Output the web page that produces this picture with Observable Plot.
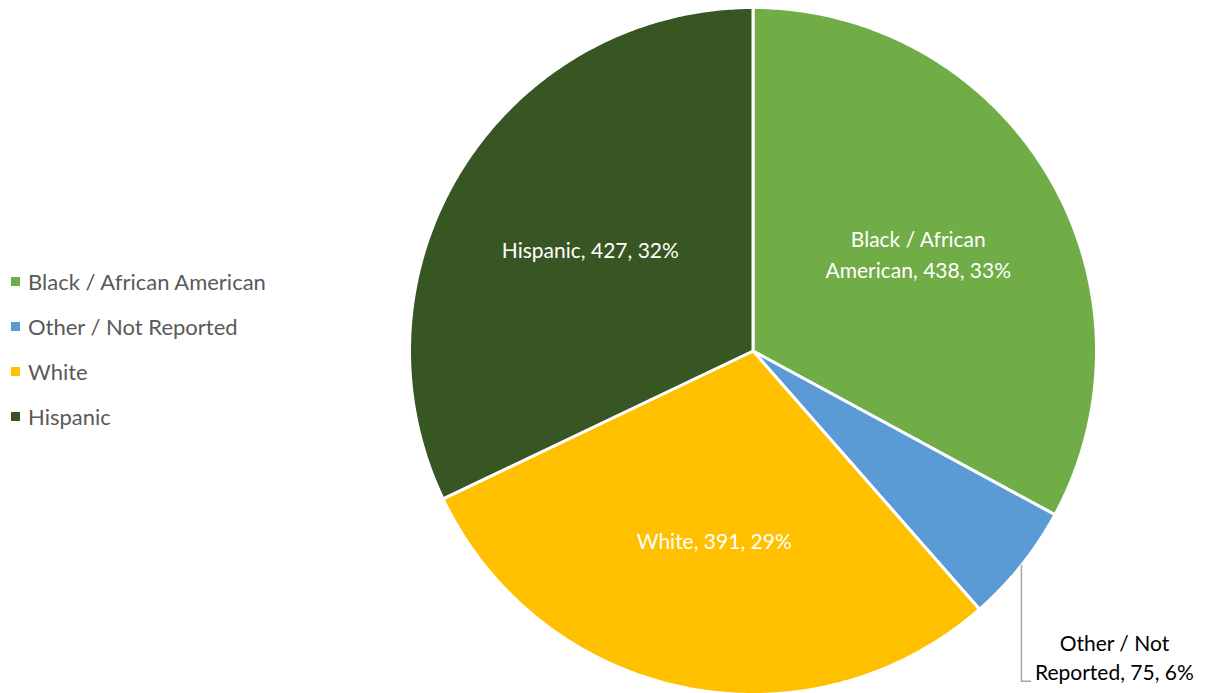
<!DOCTYPE html>
<html>
<head>
<meta charset="utf-8">
<script src="https://cdn.jsdelivr.net/npm/d3@7"></script>
<script src="https://cdn.jsdelivr.net/npm/@observablehq/plot@0.6"></script>
<style>
  html, body { margin: 0; padding: 0; background: #fff; }
  #wrap { position: relative; width: 1209px; height: 693px; overflow: hidden; font-family: Lato, "Open Sans", sans-serif; }
  #legend { position: absolute; left: 11px; top: 259px; }
  .row { height: 45px; display: flex; align-items: center; color: #595959; font-size: 22px; }
  .sw { width: 9px; height: 9px; margin-right: 8px; }
</style>
</head>
<body>
<div id="wrap"><div id="legend"></div></div>
<script>
const categories = ["Black / African American", "Other / Not Reported", "White", "Hispanic"];
const counts = [438, 75, 391, 427];
const labelNames = ["Black / African\nAmerican", "Other / Not\nReported", "White", "Hispanic"];
const colors = ["#70AD47", "#5B9BD5", "#FFC000", "#375623"];
const outsideLabel = [false, true, false, false];

const total = d3.sum(counts);
// build slice polygons (unit circle, angle clockwise from top)
const slicePts = [];
const labels = [];
const leaders = [];
let acc = 0;
categories.forEach((cat, i) => {
  const a0 = acc / total * 2 * Math.PI;
  acc += counts[i];
  const a1 = acc / total * 2 * Math.PI;
  const steps = Math.max(8, Math.ceil((a1 - a0) / (Math.PI / 360)));
  slicePts.push({cat, x: 0, y: 0});
  for (let k = 0; k <= steps; k++) {
    const a = a0 + (a1 - a0) * k / steps;
    slicePts.push({cat, x: Math.sin(a), y: Math.cos(a)});
  }
  slicePts.push({cat, x: 0, y: 0});
  const am = (a0 + a1) / 2;
  const pct = Math.round(counts[i] / total * 100);
  const text = `${labelNames[i]}, ${counts[i]}, ${pct}%`;
  if (outsideLabel[i]) {
    const px = Math.sin(am), py = Math.cos(am);
    const down = 116 / 343.5, right = 9 / 343.5;
    leaders.push({x: px, y: py}, {x: px, y: py - down}, {x: px + right, y: py - down});
    labels.push({x: px, y: py, text, outside: true});
  } else {
    const r = 0.56;
    labels.push({x: r * Math.sin(am), y: r * Math.cos(am), text, outside: false});
  }
});

const chart = Plot.plot({
  width: 1209,
  height: 693,
  margin: 0,
  x: {domain: [-1, 1], range: [409, 1096], axis: null},
  y: {domain: [-1, 1], range: [694, 7], axis: null},
  color: {domain: categories, range: colors},
  style: {fontFamily: "Lato, 'Open Sans', sans-serif", background: "#fff"},
  marks: [
    Plot.line(slicePts, {x: "x", y: "y", z: "cat", fill: "cat", stroke: "white", strokeWidth: 3, strokeLinejoin: "round", curve: "linear"}),
    Plot.line(leaders, {x: "x", y: "y", stroke: "#a6a6a6", strokeWidth: 1.5}),
    Plot.text(labels.filter(d => !d.outside), {x: "x", y: "y", text: "text", fill: "white", fontSize: 21, lineHeight: 1.45}),
    Plot.text(labels.filter(d => d.outside), {x: "x", y: "y", text: "text", fill: "#000", fontSize: 21, lineHeight: 1.4, dx: 93, dy: 91})
  ]
});
document.getElementById("wrap").appendChild(chart);

const legend = d3.select("#legend");
categories.forEach((c, i) => {
  const row = legend.append("div").attr("class", "row");
  row.append("div").attr("class", "sw").style("background", colors[i]);
  row.append("span").text(c);
});
</script>
</body>
</html>
